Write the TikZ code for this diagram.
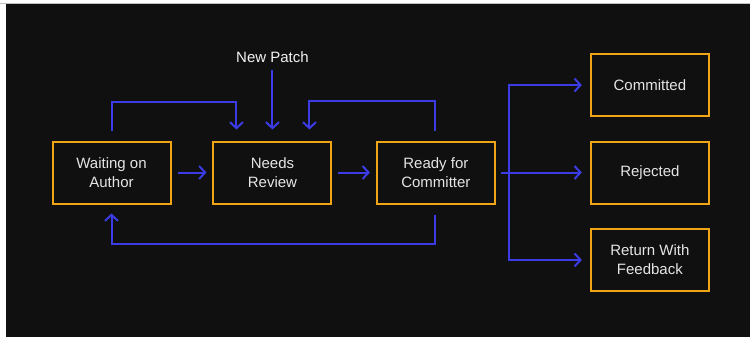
\documentclass[tikz,border=0pt]{standalone}
\usepackage{fontspec}
\setmainfont{Liberation Sans}
\usepackage{tikz}
\usetikzlibrary{arrows.meta}
\definecolor{boxorange}{HTML}{F2A514}
\definecolor{linkblue}{HTML}{3C3CE6}
\definecolor{canvas}{HTML}{101010}
\tikzstyle{state} = [font=\fontsize{15}{19}\selectfont, rectangle, minimum width=118pt, minimum height=62pt, align=center, draw=boxorange, line width=2pt, text=white!90!black]
\tikzstyle{tag} = [font=\fontsize{15}{19}\selectfont, text=white!95!black]
\tikzstyle{arrow} = [line width=2pt, draw=linkblue, -{Straight Barb[length=6pt,width=13pt]}]

\begin{document}
\begin{tikzpicture}
  \useasboundingbox (0,0) rectangle (750pt,-337pt);
  \fill[white] (0,0) rectangle (750pt,-337pt);
  \fill[canvas] (6pt,-4pt) rectangle (750pt,-337pt);
  \draw[black!25, line width=0.6pt] (0,-3.5pt) -- (750pt,-3.5pt);
  \node (waiting) [state] at (111.5pt,-172.5pt) {Waiting on\\Author};
  \node (needs_review) [state, right of = waiting, xshift=132.5pt] {Needs\\Review};
  \node (ready) [state, right of = needs_review, xshift=135pt] {Ready for\\Committer};
  \node (rejected) [state, right of = ready, xshift=185.5pt] {Rejected};
  \node (committed) [state, above of = rejected, yshift=59pt] {Committed};
  \node (returned) [state, below of = rejected, yshift=-59pt] {Return With\\Feedback};
  \node (new_patch) [tag, above of = needs_review, yshift=86.5pt] {New Patch};
  \draw[arrow, shorten <=6pt, shorten >=6pt] (waiting) -- (needs_review);
  \draw[arrow, shorten <=6pt, shorten >=6pt] (needs_review) -- (ready);
  \draw[arrow, shorten <=3pt, shorten >=11pt] (new_patch) -- (needs_review);
  \draw[arrow, shorten <=10pt, shorten >=11pt] (waiting.north) -- ++(0,39pt) -| ([xshift=-36pt]needs_review.north);
  \draw[arrow, shorten <=10pt, shorten >=11pt] ([xshift=-1pt]ready.north) -- ++(0,40pt) -| ([xshift=37pt]needs_review.north);
  \draw[arrow, shorten <=10pt, shorten >=9pt] ([xshift=-1pt]ready.south) -- ++(0,-39pt) -| (waiting.south);
  \draw[arrow, shorten <=5pt, shorten >=8pt] (ready) -- (rejected);
  \draw[arrow, shorten <=5pt, shorten >=8pt] (ready.east) -- ++(13pt,0) |- (committed.west);
  \draw[arrow, shorten <=5pt, shorten >=8pt] (ready.east) -- ++(13pt,0) |- (returned.west);
\end{tikzpicture}
\end{document}
